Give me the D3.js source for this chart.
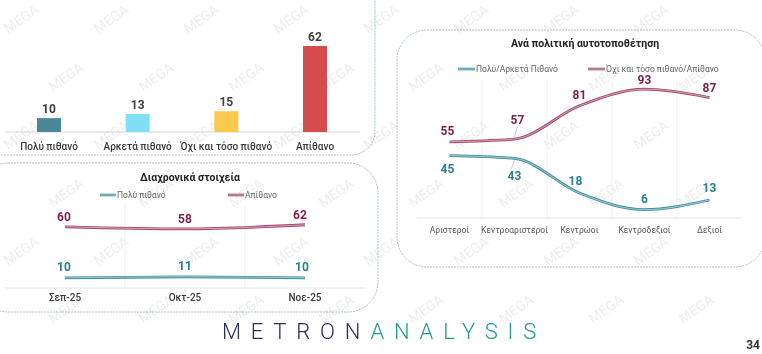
<!DOCTYPE html>
<html>
<head>
<meta charset="utf-8">
<script src="https://cdn.jsdelivr.net/npm/d3@7"></script>
<style>
  body { margin: 0; background: #fff; }
  svg { display: block; }
  text { font-family: Roboto, "Noto Sans", sans-serif; }
</style>
</head>
<body>
<div id="wrapper"></div>
<script>
// DATA
// bar chart (top left)
const barCategories = ["Πολύ πιθανό", "Αρκετά πιθανό", "Όχι και τόσο πιθανό", "Απίθανο"]
const barValues = [10, 13, 15, 62]
const barColors = ["#4b8897", "#80def7", "#fac94e", "#d44c4c"]

// trend chart (bottom left)
const trendTitle = "Διαχρονικά στοιχεία"
const trendMonths = ["Σεπ-25", "Οκτ-25", "Νοε-25"]
const trendSeriesNames = ["Πολύ πιθανό", "Απίθανο"]
const trendVeryLikely = [10, 11, 10]
const trendUnlikely = [60, 58, 62]

// political self-placement (right)
const ideoTitle = "Ανά πολιτική αυτοτοποθέτηση"
const ideoCategories = ["Αριστεροί", "Κεντροαριστεροί", "Κεντρώοι", "Κεντροδεξιοί", "Δεξιοί"]
const ideoSeriesNames = ["Πολύ/Αρκετά Πιθανό", "Όχι και τόσο πιθανό/Απίθανο"]
const ideoLikely = [45, 43, 18, 6, 13]
const ideoUnlikely = [55, 57, 81, 93, 87]

const pageNumber = "34"

// COLOURS
const teal = "#3f8e9c", tealLight = "#b5dbe2", tealText = "#2c7f8d"
const plum = "#a2466f", plumLight = "#ebb6cb", plumText = "#7d1f4e"
const gridColor = "#e6e6e6"

const width = 762, height = 354

const svg = d3.select("#wrapper").append("svg")
  .attr("width", width)
  .attr("height", height)

// WATERMARK (faint "MEGA" tiles), only where a whole tile fits
const wm = svg.append("g").attr("fill", "#d8d8d8").attr("opacity", 0.45)
for (let row = 0; row < 7; row++) {
  for (let col = 0; col < 10; col++) {
    const wx = col * 90 + (row % 2) * 45 + 8
    const wy = row * 58 + 34
    if (wx + 44 > width || wy + 2 > height) continue
    wm.append("text")
      .attr("transform", `translate(${wx},${wy}) rotate(-35)`)
      .attr("font-size", 14)
      .text("MEGA")
  }
}

// PANELS
const panelStyle = sel => sel
  .attr("fill", "none")
  .attr("stroke", "#a9c0c9")
  .attr("stroke-width", 1)
  .attr("stroke-dasharray", "2,1")

svg.append("rect").attr("x", -22).attr("y", -30).attr("width", 397).attr("height", 185).attr("rx", 24).call(panelStyle)
svg.append("rect").attr("x", -22).attr("y", 163).attr("width", 400).attr("height", 149).attr("rx", 30).call(panelStyle)
svg.append("rect").attr("x", 397).attr("y", 30).attr("width", 368).attr("height", 237).attr("rx", 30).call(panelStyle)

// double stroke line helper (dark edge, light centre)
function drawDoubleLine(g, pts, dark, light, w) {
  const line = d3.line().curve(d3.curveMonotoneX)
  g.append("path").attr("d", line(pts)).attr("fill", "none").attr("stroke", dark).attr("stroke-width", w)
  g.append("path").attr("d", line(pts)).attr("fill", "none").attr("stroke", light).attr("stroke-width", 0.8)
}

// ---------- BAR CHART ----------
const barG = svg.append("g")
const xBar = d3.scalePoint().domain(barCategories).range([49, 315])
const yBar = d3.scaleLinear().domain([0, 62]).range([132, 46])
const barWidth = 24

barG.append("line")
  .attr("x1", 5).attr("x2", 360)
  .attr("y1", yBar(0)).attr("y2", yBar(0))
  .attr("stroke", "#d9d9d9")

barG.selectAll(".bar")
  .data(barValues)
  .join("rect")
  .attr("class", "bar")
  .attr("x", (d, i) => xBar(barCategories[i]) - barWidth / 2)
  .attr("y", d => yBar(d))
  .attr("width", barWidth)
  .attr("height", d => yBar(0) - yBar(d))
  .attr("fill", (d, i) => barColors[i])

barG.selectAll(".bar-value")
  .data(barValues)
  .join("text")
  .attr("x", (d, i) => xBar(barCategories[i]))
  .attr("y", d => yBar(d) - 5)
  .attr("text-anchor", "middle")
  .attr("font-size", 12)
  .attr("font-weight", 700)
  .attr("fill", "#404040")
  .text(d => d)

barG.selectAll(".bar-cat")
  .data(barCategories)
  .join("text")
  .attr("x", d => xBar(d))
  .attr("y", 150)
  .attr("text-anchor", "middle")
  .attr("font-size", 10)
  .attr("font-weight", 500)
  .attr("fill", "#3a3a3a")
  .text(d => d)

// ---------- TREND CHART ----------
const trG = svg.append("g")
const xTr = d3.scaleBand().domain(trendMonths).range([5, 365])
const yTr = d3.scaleLinear().domain([0, 100]).range([288, 186])
const trX = d => xTr(d) + xTr.bandwidth() / 2

trG.append("text")
  .attr("x", 190).attr("y", 181)
  .attr("text-anchor", "middle")
  .attr("font-size", 10.5).attr("font-weight", 700).attr("fill", "#222")
  .text(trendTitle)

// legend
const trLegend = [[100, teal, tealLight], [228, plum, plumLight]]
trendSeriesNames.forEach((name, i) => {
  const [lx, dark, light] = trLegend[i]
  drawDoubleLine(trG, [[lx, 195], [lx + 16, 195]], dark, light, 2.6)
  trG.append("text")
    .attr("x", lx + 17).attr("y", 198)
    .attr("font-size", 8.5).attr("fill", "#666")
    .text(name)
})

// vertical grid between months
xTr.domain().slice(1).forEach(m => {
  trG.append("line")
    .attr("x1", xTr(m)).attr("x2", xTr(m))
    .attr("y1", 205).attr("y2", 288)
    .attr("stroke", "#f0f0f0")
})
trG.append("line")
  .attr("x1", 5).attr("x2", 365)
  .attr("y1", 288).attr("y2", 288)
  .attr("stroke", gridColor)

drawDoubleLine(trG, trendUnlikely.map((v, i) => [trX(trendMonths[i]), yTr(v)]), plum, plumLight, 2.8)
drawDoubleLine(trG, trendVeryLikely.map((v, i) => [trX(trendMonths[i]), yTr(v)]), teal, tealLight, 2.8)

const trLabelDx = [-1, 0, -5]
trG.selectAll(".tr-unl")
  .data(trendUnlikely)
  .join("text")
  .attr("x", (d, i) => trX(trendMonths[i]) + trLabelDx[i])
  .attr("y", d => yTr(d) - 6)
  .attr("text-anchor", "middle")
  .attr("font-size", 12).attr("font-weight", 700).attr("fill", plumText)
  .text(d => d)

trG.selectAll(".tr-vl")
  .data(trendVeryLikely)
  .join("text")
  .attr("x", (d, i) => trX(trendMonths[i]) + trLabelDx[i] + (i === 2 ? 2 : 0))
  .attr("y", d => yTr(d) - 7)
  .attr("text-anchor", "middle")
  .attr("font-size", 12).attr("font-weight", 700).attr("fill", tealText)
  .text(d => d)

trG.selectAll(".tr-month")
  .data(trendMonths)
  .join("text")
  .attr("x", d => trX(d))
  .attr("y", 301)
  .attr("text-anchor", "middle")
  .attr("font-size", 10).attr("font-weight", 500).attr("fill", "#3a3a3a")
  .text(d => d)

// ---------- POLITICAL SELF-PLACEMENT ----------
const idG = svg.append("g")
const xId = d3.scaleBand().domain(ideoCategories).range([417, 742])
const yId = d3.scaleLinear().domain([0, 100]).range([218, 79.5])
const idX = d => xId(d) + xId.bandwidth() / 2

idG.append("text")
  .attr("x", 585).attr("y", 47)
  .attr("text-anchor", "middle")
  .attr("font-size", 10.5).attr("font-weight", 700).attr("fill", "#222")
  .text(ideoTitle)

const idLegend = [[458, teal, tealLight], [588, plum, plumLight]]
ideoSeriesNames.forEach((name, i) => {
  const [lx, dark, light] = idLegend[i]
  drawDoubleLine(idG, [[lx, 69], [lx + 17, 69]], dark, light, 2.6)
  idG.append("text")
    .attr("x", lx + 18).attr("y", 72)
    .attr("font-size", 8.5).attr("fill", "#666")
    .text(name)
})

xId.domain().slice(1).forEach(c => {
  idG.append("line")
    .attr("x1", xId(c)).attr("x2", xId(c))
    .attr("y1", 80).attr("y2", 218)
    .attr("stroke", "#f0f0f0")
})
idG.append("line")
  .attr("x1", 417).attr("x2", 742)
  .attr("y1", 218).attr("y2", 218)
  .attr("stroke", gridColor)

drawDoubleLine(idG, ideoUnlikely.map((v, i) => [idX(ideoCategories[i]), yId(v)]), plum, plumLight, 2.8)
drawDoubleLine(idG, ideoLikely.map((v, i) => [idX(ideoCategories[i]), yId(v)]), teal, tealLight, 2.8)

// label placement: offset of label baseline from the point
const unlikelyDy = [-7, -15, -7, -5, -6]
const unlikelyDx = [-2, 3, 0, 0, 0]
const likelyDy = [17, 22, -8, -7, -8]
const likelyDx = [-2, 0, -4, 0, 0]

// small leader lines for the crowded middle-left points
const leaderIdx = 1
idG.append("line")
  .attr("x1", idX(ideoCategories[leaderIdx]) + 3).attr("y1", yId(ideoUnlikely[leaderIdx]) - 13)
  .attr("x2", idX(ideoCategories[leaderIdx])).attr("y2", yId(ideoUnlikely[leaderIdx]) - 2)
  .attr("stroke", "#aaa").attr("stroke-width", 0.6)
idG.append("line")
  .attr("x1", idX(ideoCategories[leaderIdx])).attr("y1", yId(ideoLikely[leaderIdx]) + 2)
  .attr("x2", idX(ideoCategories[leaderIdx]) - 3).attr("y2", yId(ideoLikely[leaderIdx]) + 10)
  .attr("stroke", "#aaa").attr("stroke-width", 0.6)

idG.selectAll(".id-unl")
  .data(ideoUnlikely)
  .join("text")
  .attr("x", (d, i) => idX(ideoCategories[i]) + unlikelyDx[i])
  .attr("y", (d, i) => yId(d) + unlikelyDy[i])
  .attr("text-anchor", "middle")
  .attr("font-size", 12).attr("font-weight", 700).attr("fill", plumText)
  .text(d => d)

idG.selectAll(".id-lk")
  .data(ideoLikely)
  .join("text")
  .attr("x", (d, i) => idX(ideoCategories[i]) + likelyDx[i])
  .attr("y", (d, i) => yId(d) + likelyDy[i])
  .attr("text-anchor", "middle")
  .attr("font-size", 12).attr("font-weight", 700).attr("fill", tealText)
  .text(d => d)

idG.selectAll(".id-cat")
  .data(ideoCategories)
  .join("text")
  .attr("x", d => idX(d))
  .attr("y", 233)
  .attr("text-anchor", "middle")
  .attr("font-size", 8.5).attr("fill", "#555")
  .text(d => d)

// ---------- FOOTER ----------
const logo = svg.append("text")
  .attr("x", 222).attr("y", 339)
  .attr("font-family", "Lato, 'Open Sans', sans-serif")
  .attr("font-size", 22)
  .attr("font-weight", 300)
  .attr("letter-spacing", 9.8)
logo.append("tspan").attr("fill", "#2b2f5c").text("METRON")
logo.append("tspan").attr("fill", "#1f9a8c").text("ANALYSIS")

svg.append("text")
  .attr("x", 760).attr("y", 349)
  .attr("text-anchor", "end")
  .attr("font-size", 12).attr("font-weight", 700).attr("fill", "#333")
  .text(pageNumber)
</script>
</body>
</html>
